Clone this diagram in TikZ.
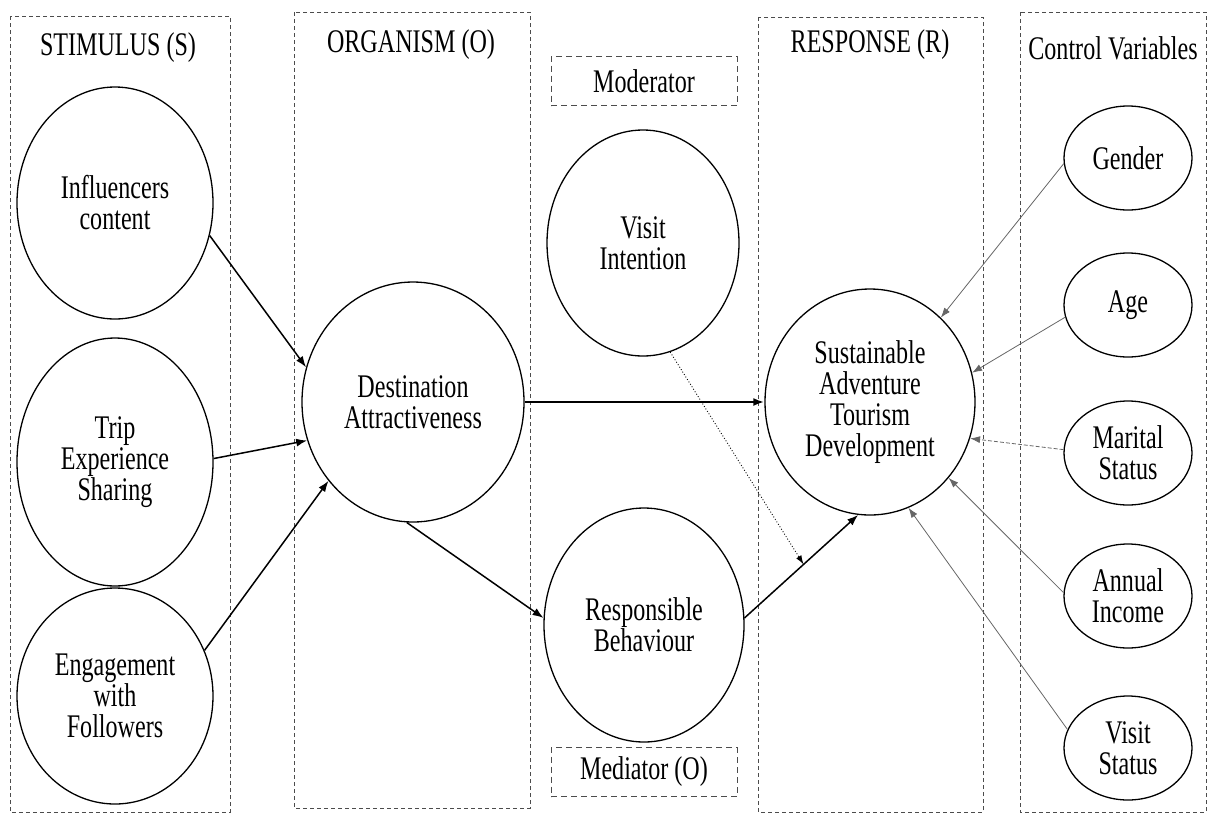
\documentclass[tikz,border=0pt]{standalone}
\usepackage{fontspec}
\setmainfont{Liberation Serif}[FakeStretch=0.73]
\usetikzlibrary{shapes.geometric,arrows.meta,calc}

\begin{document}
\begin{tikzpicture}[x=1pt,y=-1pt,
  panel/.style={draw=black!70, dash pattern=on 4pt off 3pt, line width=0.8pt},
  tagbox/.style={draw=black!70, dash pattern=on 6pt off 4pt, line width=1pt,
    minimum width=186pt, minimum height=49pt, inner sep=0pt, font=\fontsize{33}{31}\selectfont},
  header/.style={inner sep=0pt, font=\fontsize{33}{31}\selectfont},
  construct/.style={draw, ellipse, line width=1.3pt, inner sep=0pt, align=center,
    font=\fontsize{33}{31}\selectfont},
  stim/.style={construct, minimum width=196pt},
  control/.style={construct, minimum width=128pt, minimum height=104pt},
  mainarrow/.style={line width=1.5pt, -{Latex[length=11pt,width=8pt]}},
  ctrlarrow/.style={draw=black!60, line width=0.8pt, -{Latex[length=10pt,width=7pt]}},
  modarrow/.style={line width=0.9pt, dotted, -{Latex[length=9pt,width=6pt]}}
]
% page frame
\useasboundingbox (0,0) rectangle (1208,815);

% the four framework columns
\draw[panel] (10,16) rectangle (230,812);
\draw[panel] (294,12) rectangle (530,808);
\draw[panel] (758,17) rectangle (983,812);
\draw[panel] (1020,12) rectangle (1206,812);

% column headings
\node[header] (hS) at (118,48) {STIMULUS (S)};
\node[header] (hO) at (411,45) {ORGANISM (O)};
\node[header] (hR) at (870,45) {RESPONSE (R)};
\node[header] (hC) at (1113,48) {Control Variables};

% role labels in the middle column
\node[tagbox] (modtag) at (644,81) {Moderator};
\node[tagbox] (medtag) at (644,772) {Mediator (O)};

% stimulus constructs
\node[stim, minimum height=232pt] (inf) at (115,203) {Influencers\\content};
\node[stim, minimum height=248pt] (trip) at (115,462) {Trip\\Experience\\Sharing};
\node[stim, minimum height=216pt] (eng) at (115,696) {Engagement\\with\\Followers};

% organism
\node[construct, minimum width=222pt, minimum height=240pt] (da) at (413,402) {Destination\\Attractiveness};

% moderator and mediator
\node[construct, minimum width=192pt, minimum height=226pt] (vi) at (643,243) {Visit\\Intention};
\node[construct, minimum width=200pt, minimum height=234pt] (rb) at (644,625) {Responsible\\Behaviour};

% response
\node[construct, minimum width=210pt, minimum height=226pt] (satd) at (870,402) {Sustainable\\Adventure\\Tourism\\Development};

% control variables
\node[control] (gen) at (1128,158) {Gender};
\node[control] (age) at (1128,305) {Age};
\node[control] (mar) at (1128,453) {Marital\\Status};
\node[control] (inc) at (1128,596) {Annual\\Income};
\node[control] (vst) at (1128,748) {Visit\\Status};

% structural paths
\draw[mainarrow] (inf.-19) -- (da.162);
\draw[mainarrow] (trip.2) -- (da.200);
\draw[mainarrow] (eng.27) -- (da.223);
\draw[mainarrow, line width=2.4pt] (da.east) -- (satd.west);
\draw[mainarrow] (da.267) -- (rb.176);
\draw[mainarrow] (rb.4) -- (satd.264);

% moderation onto the mediated path
\coordinate (modpt) at ($(rb.4)!0.52!(satd.264)$);
\draw[modarrow] (vi.-76) -- (modpt);

% control paths
\draw[ctrlarrow] (gen.185) -- (satd.50);
\draw[ctrlarrow] (age.191) -- (satd.16);
\draw[ctrlarrow, dash pattern=on 4pt off 2pt] (mar.177) -- (satd.-20);
\draw[ctrlarrow] (inc.177) -- (satd.-44);
\draw[ctrlarrow] (vst.163) -- (satd.-70);
\end{tikzpicture}
\end{document}
